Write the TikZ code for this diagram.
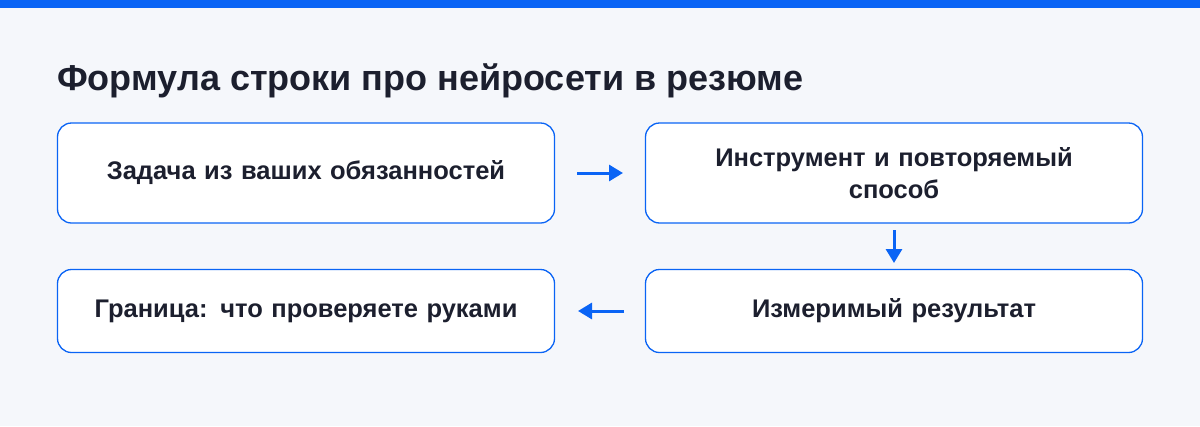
\documentclass[tikz,border=0pt]{standalone}
\usepackage{fontspec}
\setmainfont{Liberation Sans}
\usetikzlibrary{arrows.meta}
\definecolor{bgcol}{HTML}{F5F7FB}
\definecolor{bcol}{HTML}{0A64F5}
\definecolor{tcol}{HTML}{1C1F2E}
\tikzset{box/.style={draw=bcol,line width=1.3pt,fill=white,rounded corners=14pt,minimum width=497pt,minimum height=100pt,align=center,text=tcol,font=\fontsize{25.5}{32}\selectfont\bfseries,text width=460pt}}
\tikzset{small/.style={minimum height=83pt}}
\tikzset{edge/.style={bcol,line width=3pt,-{Triangle[length=14pt,width=16pt]}}}
\begin{document}
\begin{tikzpicture}[x=1pt,y=-1pt]
\fill [bgcol] (0,0) rectangle (1200,426);
\fill [bcol] (0,0) rectangle (1200,8);
\node [anchor=base west,text=tcol,font=\fontsize{36}{42}\selectfont\bfseries,inner sep=0] (title) at (57,90) {Формула строки про нейросети в резюме};

\node [box] (task) at (306,173) {Задача из ваших обязанностей};
\node [box] (tool) at (894,173) {Инструмент и повторяемый\\способ};
\node [box,small] (bound) at (306,311) {Граница: что проверяете руками};
\node [box,small] (res) at (894,311) {Измеримый результат};

\coordinate (a1) at (577,173);
\coordinate (a2) at (623,173);
\coordinate (b1) at (894,230);
\coordinate (b2) at (894,263);
\coordinate (c1) at (624,311);
\coordinate (c2) at (578,311);

\draw [edge] (a1) -- (a2);
\draw [edge] (b1) -- (b2);
\draw [edge] (c1) -- (c2);
\end{tikzpicture}
\end{document}
